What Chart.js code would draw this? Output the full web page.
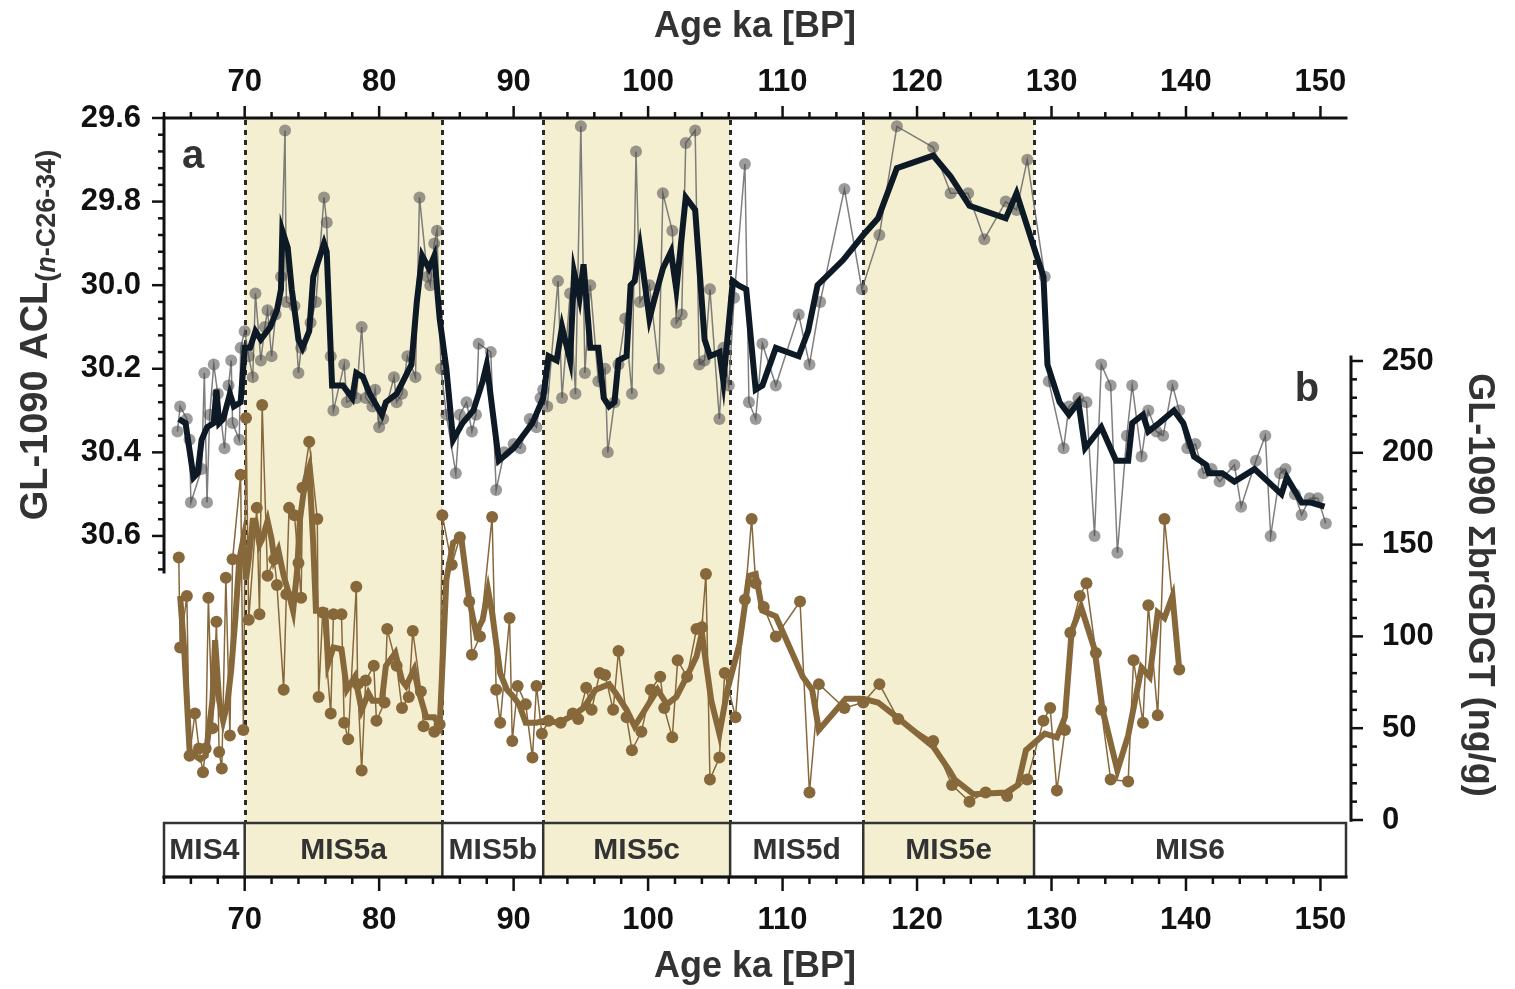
<!DOCTYPE html>
<html>
<head>
<meta charset="utf-8">
<title>GL-1090 ACL and brGDGT</title>
<script src="https://cdn.jsdelivr.net/npm/chart.js@4.4.1/dist/chart.umd.min.js"></script>
<style>
  html, body { margin: 0; padding: 0; background: #fff; }
  canvas { display: block; }
</style>
</head>
<body>
<canvas id="chart" width="1515" height="989"></canvas>
<script>
// ---- data ----
const ageTicks = [70, 80, 90, 100, 110, 120, 130, 140, 150];
const aclTicks = [29.6, 29.8, 30.0, 30.2, 30.4, 30.6];
const gdgtTicks = [0, 50, 100, 150, 200, 250];

const misEdges = [64, 70, 84.7, 92.2, 106.1, 116, 128.7, 151.9];
const misNames = ['MIS4', 'MIS5a', 'MIS5b', 'MIS5c', 'MIS5d', 'MIS5e', 'MIS6'];
const misShaded = [false, true, false, true, false, true, false];

// ACL (n-C26-34), raw samples
const aclRawAge = [65.0,65.2,65.7,65.9,66.0,66.8,67.0,67.2,67.4,67.7,68.0,68.5,68.8,69.0,69.1,69.6,69.7,70.0,70.3,70.6,
  70.8,71.2,71.5,71.7,72.0,72.3,72.7,73.0,73.1,73.7,74.0,74.2,74.9,75.3,75.9,76.1,76.4,76.6,77.4,77.6,
  78.3,78.7,79.0,79.5,79.7,80.0,80.3,81.1,81.3,81.7,82.1,82.7,83.0,83.6,83.8,84.1,84.3,84.6,85.0,85.7,
  86.0,86.5,86.9,87.2,87.4,88.3,88.7,89.3,90.0,90.5,91.2,91.7,92.0,92.2,92.5,93.3,93.6,94.2,94.6,95.0,
  95.3,95.7,96.3,96.8,97.0,97.5,97.8,98.3,98.8,99.1,99.4,100.1,100.8,101.1,101.8,102.1,102.5,102.8,103.5,103.8,
  104.2,104.6,105.3,105.6,106.0,106.4,107.2,107.5,108.0,108.5,109.5,111.2,112.0,112.8,114.6,115.9,117.2,118.5,121.2,122.5,
  123.8,125.0,126.6,127.4,128.2,129.5,129.8,130.9,131.3,132.0,132.6,133.2,133.7,134.4,134.9,135.6,136.0,136.7,137.2,137.8,
  138.3,139.0,139.5,140.1,140.7,141.3,141.9,142.5,143.6,144.1,145.2,145.9,146.3,147.0,147.4,148.1,148.6,149.2,149.8,150.4];
const aclRawVal = [30.35,30.29,30.32,30.37,30.52,30.44,30.21,30.52,30.31,30.19,30.26,30.39,30.24,30.18,30.33,30.37,30.15,30.11,30.17,30.22,
  30.02,30.18,30.10,30.06,30.17,30.07,29.98,29.63,30.04,30.05,30.21,30.15,30.09,30.04,29.79,29.85,30.17,30.30,30.19,30.28,
  30.27,30.10,30.27,30.29,30.25,30.34,30.32,30.22,30.28,30.26,30.17,30.22,29.79,29.98,30.00,29.90,29.87,30.20,30.31,30.45,
  30.31,30.28,30.35,30.31,30.14,30.16,30.49,30.40,30.38,30.39,30.32,30.34,30.27,30.25,30.29,29.99,30.27,30.02,30.26,29.62,
  30.21,30.00,30.23,30.20,30.40,30.28,30.19,30.08,30.26,29.68,30.04,30.00,30.20,29.78,29.87,30.09,30.07,29.66,29.63,30.19,
  30.18,30.01,30.32,30.15,30.24,30.03,29.71,30.28,30.32,30.14,30.24,30.07,30.19,30.04,29.77,30.01,29.88,29.62,29.67,29.78,
  29.78,29.89,29.80,29.82,29.70,29.98,30.23,30.39,30.29,30.27,30.28,30.60,30.19,30.24,30.64,30.36,30.24,30.41,30.30,30.35,
  30.36,30.24,30.30,30.39,30.38,30.45,30.44,30.47,30.43,30.53,30.42,30.36,30.60,30.45,30.44,30.50,30.55,30.51,30.51,30.57];

// ACL, smoothed curve
const aclSmoothAge = [65.1,65.6,66.2,66.5,66.8,67.2,67.7,67.9,68.1,68.4,68.9,69.2,69.7,70.0,70.4,70.8,71.2,71.9,72.4,72.7,
  72.8,73.2,73.5,74.0,74.3,74.8,75.1,75.6,75.9,76.1,76.5,76.9,77.3,78.0,78.3,78.8,79.3,80.2,80.5,81.3,
  82.4,82.8,83.2,83.7,84.1,84.5,85.0,85.5,86.2,87.0,87.7,88.0,88.9,90.0,91.4,92.2,92.6,93.2,93.6,94.2,
  94.5,94.9,95.2,95.7,96.3,96.7,97.1,97.5,97.8,98.4,98.7,99.0,99.4,100.1,100.5,101.1,101.7,102.1,102.8,103.5,
  104.2,104.6,105.3,105.6,106.3,106.7,107.3,108.0,108.5,109.5,111.2,111.9,112.6,114.5,116.0,117.1,118.5,121.2,122.5,123.9,
  126.6,127.4,127.9,128.7,129.4,129.7,130.6,131.3,132.0,132.5,133.7,134.8,135.7,136.0,136.8,137.2,138.0,139.1,139.8,140.6,
  141.5,141.7,142.7,143.6,145.1,147.1,147.5,148.6,149.3,150.3];
const aclSmoothVal = [30.32,30.33,30.46,30.45,30.37,30.34,30.33,30.25,30.33,30.32,30.26,30.29,30.28,30.15,30.15,30.11,30.13,30.10,30.06,30.01,
  29.87,29.91,30.01,30.13,30.15,30.11,29.98,29.93,29.90,29.92,30.24,30.24,30.24,30.27,30.21,30.22,30.26,30.31,30.28,30.26,
  30.19,30.04,29.93,29.96,29.93,30.08,30.20,30.37,30.33,30.30,30.23,30.19,30.42,30.39,30.33,30.27,30.17,30.18,30.10,30.18,
  29.97,30.03,29.95,30.15,30.15,30.27,30.29,30.28,30.18,30.17,30.00,29.99,29.91,30.08,30.03,29.96,29.92,30.01,29.79,29.82,
  30.13,30.17,30.16,30.23,29.99,30.00,30.01,30.25,30.24,30.15,30.17,30.11,30.00,29.94,29.88,29.84,29.72,29.69,29.74,29.81,
  29.84,29.78,29.83,29.91,29.98,30.19,30.28,30.31,30.28,30.39,30.34,30.42,30.42,30.33,30.31,30.35,30.33,30.30,30.33,30.41,
  30.43,30.45,30.45,30.47,30.44,30.50,30.46,30.52,30.52,30.53];

// sum of brGDGTs (ng/g), raw samples
const gdgtRawAge = [65.1,65.2,65.7,65.9,66.3,66.6,66.9,67.1,67.3,67.6,67.9,68.1,68.3,68.6,68.9,69.1,69.7,69.9,70.1,70.3,
  70.9,71.1,71.3,71.7,72.2,72.4,72.9,73.1,73.3,73.7,74.0,74.2,74.3,74.8,75.4,75.5,75.8,76.4,76.6,77.2,
  77.4,77.7,78.3,78.4,78.7,79.0,79.6,79.8,80.4,80.6,81.3,81.7,82.2,82.5,83.1,83.3,84.1,84.5,84.7,85.4,
  86.0,86.7,86.9,87.5,88.4,88.7,89.0,89.7,89.9,90.3,90.9,91.4,91.7,92.1,92.6,93.5,94.4,94.8,95.4,95.8,
  96.4,96.8,97.4,97.8,98.4,98.8,99.5,100.2,100.9,101.2,101.8,102.2,102.9,103.6,104.0,104.3,104.6,105.3,105.7,106.5,
  107.2,107.7,108.0,108.6,109.5,111.3,112.0,112.7,114.6,116.0,117.2,118.6,121.2,122.6,123.9,125.1,126.7,128.2,129.4,129.9,
  130.4,131.0,131.4,132.1,132.6,133.3,133.7,134.4,135.7,136.1,136.8,137.2,137.9,138.4,139.5];
const gdgtRawVal = [143,94,122,35,58,39,26,39,121,50,108,37,28,132,46,142,188,49,219,109,
  170,112,226,133,142,128,71,123,170,166,140,121,181,206,164,67,113,58,112,112,
  53,44,127,74,27,76,84,54,64,104,84,61,67,103,70,51,48,52,166,139,
  154,119,90,100,165,71,53,110,43,73,63,34,73,47,54,53,58,55,72,60,
  80,79,60,92,56,38,48,71,78,61,45,87,78,104,105,134,22,34,80,56,
  120,164,129,116,100,119,15,74,61,64,74,55,43,19,10,15,13,22,54,61,
  16,49,102,122,129,91,60,22,21,87,53,117,57,164,82];

// sum of brGDGTs, smoothed curve
const gdgtSmoothAge = [65.2,65.5,65.9,66.3,66.7,67.1,67.6,67.8,68.1,68.4,68.7,69.0,69.3,69.6,69.9,70.1,70.3,70.6,70.8,71.1,
  71.3,71.7,72.0,72.2,72.5,72.9,73.3,73.6,73.9,74.1,74.5,74.8,75.1,75.3,76.0,76.2,76.6,77.2,77.6,78.2,
  78.7,79.2,79.5,80.2,80.5,81.2,81.7,82.0,82.6,82.9,83.5,84.1,84.5,85.0,85.5,86.1,86.7,87.2,87.7,88.1,
  88.4,89.0,89.5,90.0,90.4,90.9,91.7,92.3,93.4,94.4,95.2,96.1,97.1,97.6,98.4,99.0,99.6,100.7,101.4,102.1,
  102.8,103.6,104.0,104.2,104.7,105.3,105.9,106.8,107.5,108.0,108.5,109.5,111.5,112.2,112.7,114.7,116.0,117.1,118.5,121.2,
  122.4,122.8,124.2,126.6,127.5,128.1,129.5,130.4,131.0,131.5,132.2,133.2,133.8,134.9,135.7,136.7,137.3,137.9,138.4,139.0,
  139.5];
const gdgtSmoothVal = [122,93,38,35,33,35,65,98,65,54,63,82,109,142,153,131,142,163,163,150,
  153,163,153,142,147,133,123,114,136,163,185,192,150,114,114,85,94,93,71,78,
  60,69,65,65,84,91,76,73,82,71,56,56,51,131,151,154,120,102,109,125,
  113,80,71,67,63,53,53,54,53,57,61,71,74,69,60,51,58,71,63,67,
  77,89,102,91,65,47,71,96,133,134,114,111,78,71,49,66,66,64,56,40,
  27,22,14,15,19,38,47,45,56,103,116,93,60,27,46,83,78,113,110,122,
  82];

const pairs = (xs, ys) => xs.map((x, i) => ({ x: x, y: ys[i] }));

// ---- fonts & colours ----
const SANS = '"Liberation Sans", Arial, sans-serif';
const INK = '#111';
const TITLE_INK = '#333';
const BAND = '#f5efd2';
const BROWN = '#87683a';

// ---- decorations: bands, MIS bar, axes lines / ticks, y titles ----
const decor = {
    id: 'decor',
    beforeDatasetsDraw(chart) {
        const { ctx, chartArea: ca, scales } = chart;
        const x = scales.x;
        ctx.save();
        for (let i = 0; i < misNames.length; i++) {
            if (!misShaded[i]) continue;
            const x0 = x.getPixelForValue(misEdges[i]);
            const x1 = x.getPixelForValue(misEdges[i + 1]);
            ctx.fillStyle = BAND;
            ctx.fillRect(x0, ca.top, x1 - x0, ca.bottom - ca.top);
        }
        // dotted stage boundaries
        const barTop = ca.bottom - 54;
        ctx.strokeStyle = '#2b2b2b';
        ctx.lineWidth = 3;
        ctx.setLineDash([5, 5]);
        for (let i = 1; i < misEdges.length - 1; i++) {
            const px = Math.round(x.getPixelForValue(misEdges[i])) + 0.5;
            ctx.beginPath();
            ctx.moveTo(px, ca.top + 2);
            ctx.lineTo(px, barTop);
            ctx.stroke();
        }
        ctx.restore();
    },
    afterDatasetsDraw(chart) {
        const { ctx, chartArea: ca, scales } = chart;
        const x = scales.x, y = scales.y, y2 = scales.y2;
        const barTop = ca.bottom - 54;
        ctx.save();

        // MIS bar
        ctx.strokeStyle = '#333';
        ctx.lineWidth = 2.5;
        ctx.strokeRect(ca.left, barTop, ca.right - ca.left, ca.bottom - barTop);
        ctx.font = 'bold 30px ' + SANS;
        ctx.fillStyle = TITLE_INK;
        ctx.textAlign = 'center';
        ctx.textBaseline = 'middle';
        for (let i = 0; i < misNames.length; i++) {
            const x0 = x.getPixelForValue(misEdges[i]);
            const x1 = x.getPixelForValue(misEdges[i + 1]);
            if (i > 0) {
                ctx.beginPath();
                ctx.moveTo(x0, barTop);
                ctx.lineTo(x0, ca.bottom);
                ctx.stroke();
            }
            ctx.save();
            ctx.translate((x0 + x1) / 2, (barTop + ca.bottom) / 2 + 1);
            const w = ctx.measureText(misNames[i]).width;
            const room = (x1 - x0) - 4;
            if (w > room) ctx.scale(room / w, 1);
            ctx.fillText(misNames[i], 0, 0);
            ctx.restore();
        }

        // axis lines & ticks
        ctx.strokeStyle = INK;
        ctx.lineWidth = 3;
        const line = (x0, y0, x1, y1) => { ctx.beginPath(); ctx.moveTo(x0, y0); ctx.lineTo(x1, y1); ctx.stroke(); };

        // top and bottom age axes
        line(ca.left - 1.5, ca.top, ca.right + 1.5, ca.top);
        line(ca.left - 1.5, ca.bottom, ca.right + 1.5, ca.bottom);
        ctx.lineWidth = 2.5;
        for (let k = 32; k <= 75; k++) {
            const v = 2 * k;
            const px = x.getPixelForValue(v);
            const major = v % 10 === 0;
            line(px, ca.top, px, ca.top - (major ? 12 : 6));
            line(px, ca.bottom, px, ca.bottom + (major ? 14 : 7));
        }

        // left ACL axis (reversed)
        ctx.lineWidth = 3;
        const yEnd = y.getPixelForValue(30.69);
        line(ca.left, ca.top - 1.5, ca.left, yEnd);
        ctx.lineWidth = 2.5;
        for (let k = 0; k <= 27; k++) {
            const py = y.getPixelForValue(29.6 + 0.04 * k);
            line(ca.left, py, ca.left - (k % 5 === 0 ? 12 : 6), py);
        }

        // right brGDGT axis
        const rx = ca.right + 5;
        ctx.lineWidth = 3;
        line(rx, y2.getPixelForValue(253), rx, y2.getPixelForValue(-1));
        ctx.lineWidth = 2.5;
        for (let k = 0; k <= 25; k++) {
            const py = y2.getPixelForValue(10 * k);
            line(rx, py, rx + (k % 5 === 0 ? 12 : 6), py);
        }

        // left y title with subscript
        ctx.fillStyle = TITLE_INK;
        ctx.textBaseline = 'alphabetic';
        ctx.textAlign = 'left';
        ctx.save();
        ctx.translate(47, 335);
        ctx.rotate(-Math.PI / 2);
        const mainFont = 'bold 38px ' + SANS;
        const subFont = 'bold 27px ' + SANS;
        const subItal = 'italic bold 27px ' + SANS;
        const pieces = [['GL-1090 ACL', mainFont, 0], ['(', subFont, 8], ['n', subItal, 8], ['-C26-34)', subFont, 8]];
        let total = 0;
        pieces.forEach(p => { ctx.font = p[1]; p.push(ctx.measureText(p[0]).width); total += p[3]; });
        let cx = -total / 2;
        pieces.forEach(p => { ctx.font = p[1]; ctx.fillText(p[0], cx, p[2]); cx += p[3]; });
        ctx.restore();

        // right y title
        ctx.save();
        ctx.translate(1469, 585);
        ctx.rotate(Math.PI / 2);
        ctx.textAlign = 'center';
        ctx.font = 'bold 36px ' + SANS;
        ctx.fillText('GL-1090 \u03A3brGDGT (ng/g)', 0, 0);
        ctx.restore();

        // panel letters
        ctx.font = 'bold 40px ' + SANS;
        ctx.textAlign = 'center';
        ctx.textBaseline = 'middle';
        ctx.fillText('a', 193, 157);
        ctx.fillText('b', 1307, 390);

        ctx.restore();
    }
};

const tickFont = { family: SANS, size: 31, weight: 'bold' };
const yTickFont = { family: SANS, size: 31, weight: 'bold' };
const titleFont = { family: SANS, size: 36, weight: 'bold' };

new Chart(document.getElementById('chart'), {
    type: 'line',
    data: {
        datasets: [
            {
                label: 'ACL smoothed', data: pairs(aclSmoothAge, aclSmoothVal), yAxisID: 'y',
                borderColor: '#0d1a26', borderWidth: 6, pointRadius: 0, order: 0
            },
            {
                label: 'ACL', data: pairs(aclRawAge, aclRawVal), yAxisID: 'y',
                borderColor: 'rgba(105,105,105,0.85)', borderWidth: 1.5,
                pointRadius: 6, pointBorderWidth: 0, pointBackgroundColor: 'rgba(75,75,75,0.55)', order: 2
            },
            {
                label: 'brGDGT smoothed', data: pairs(gdgtSmoothAge, gdgtSmoothVal), yAxisID: 'y2',
                borderColor: BROWN, borderWidth: 6, pointRadius: 0, order: 1
            },
            {
                label: 'brGDGT', data: pairs(gdgtRawAge, gdgtRawVal), yAxisID: 'y2',
                borderColor: BROWN, borderWidth: 1.5,
                pointRadius: 6, pointBorderWidth: 0, pointBackgroundColor: BROWN, order: 3
            }
        ]
    },
    options: {
        responsive: false,
        animation: false,
        devicePixelRatio: 1,
        layout: { padding: 0 },
        plugins: { legend: { display: false }, tooltip: { enabled: false } },
        scales: {
            x: {
                type: 'linear', position: 'bottom', min: 64, max: 151.9,
                afterBuildTicks: s => { s.ticks = ageTicks.map(v => ({ value: v })); },
                afterFit: s => { s.height = 112; },
                grid: { display: false, drawTicks: false },
                border: { display: false },
                ticks: { font: tickFont, color: INK, padding: 25, autoSkip: false, maxRotation: 0 },
                title: { display: true, text: 'Age ka [BP]', font: titleFont, color: TITLE_INK, padding: { top: 0, bottom: 0 } }
            },
            x2: {
                type: 'linear', position: 'top', min: 64, max: 151.9,
                afterBuildTicks: s => { s.ticks = ageTicks.map(v => ({ value: v })); },
                afterFit: s => { s.height = 118; },
                grid: { display: false, drawTicks: false },
                border: { display: false },
                ticks: { font: tickFont, color: INK, padding: 17, autoSkip: false, maxRotation: 0 },
                title: { display: true, text: 'Age ka [BP]', font: titleFont, color: TITLE_INK, padding: { top: 5, bottom: 0 } }
            },
            y: {
                type: 'linear', position: 'left', reverse: true, min: 29.6, max: 31.416,
                afterBuildTicks: s => { s.ticks = aclTicks.map(v => ({ value: v })); },
                afterFit: s => { s.width = 164; },
                grid: { display: false, drawTicks: false },
                border: { display: false },
                ticks: { font: yTickFont, color: INK, padding: 23, autoSkip: false, callback: v => v.toFixed(1) }
            },
            y2: {
                type: 'linear', position: 'right', min: -31.05, max: 382.35,
                afterBuildTicks: s => { s.ticks = gdgtTicks.map(v => ({ value: v })); },
                afterFit: s => { s.width = 169; },
                grid: { display: false, drawTicks: false },
                border: { display: false },
                ticks: { font: yTickFont, color: INK, padding: 36, autoSkip: false }
            }
        }
    },
    plugins: [decor]
});
</script>
</body>
</html>
